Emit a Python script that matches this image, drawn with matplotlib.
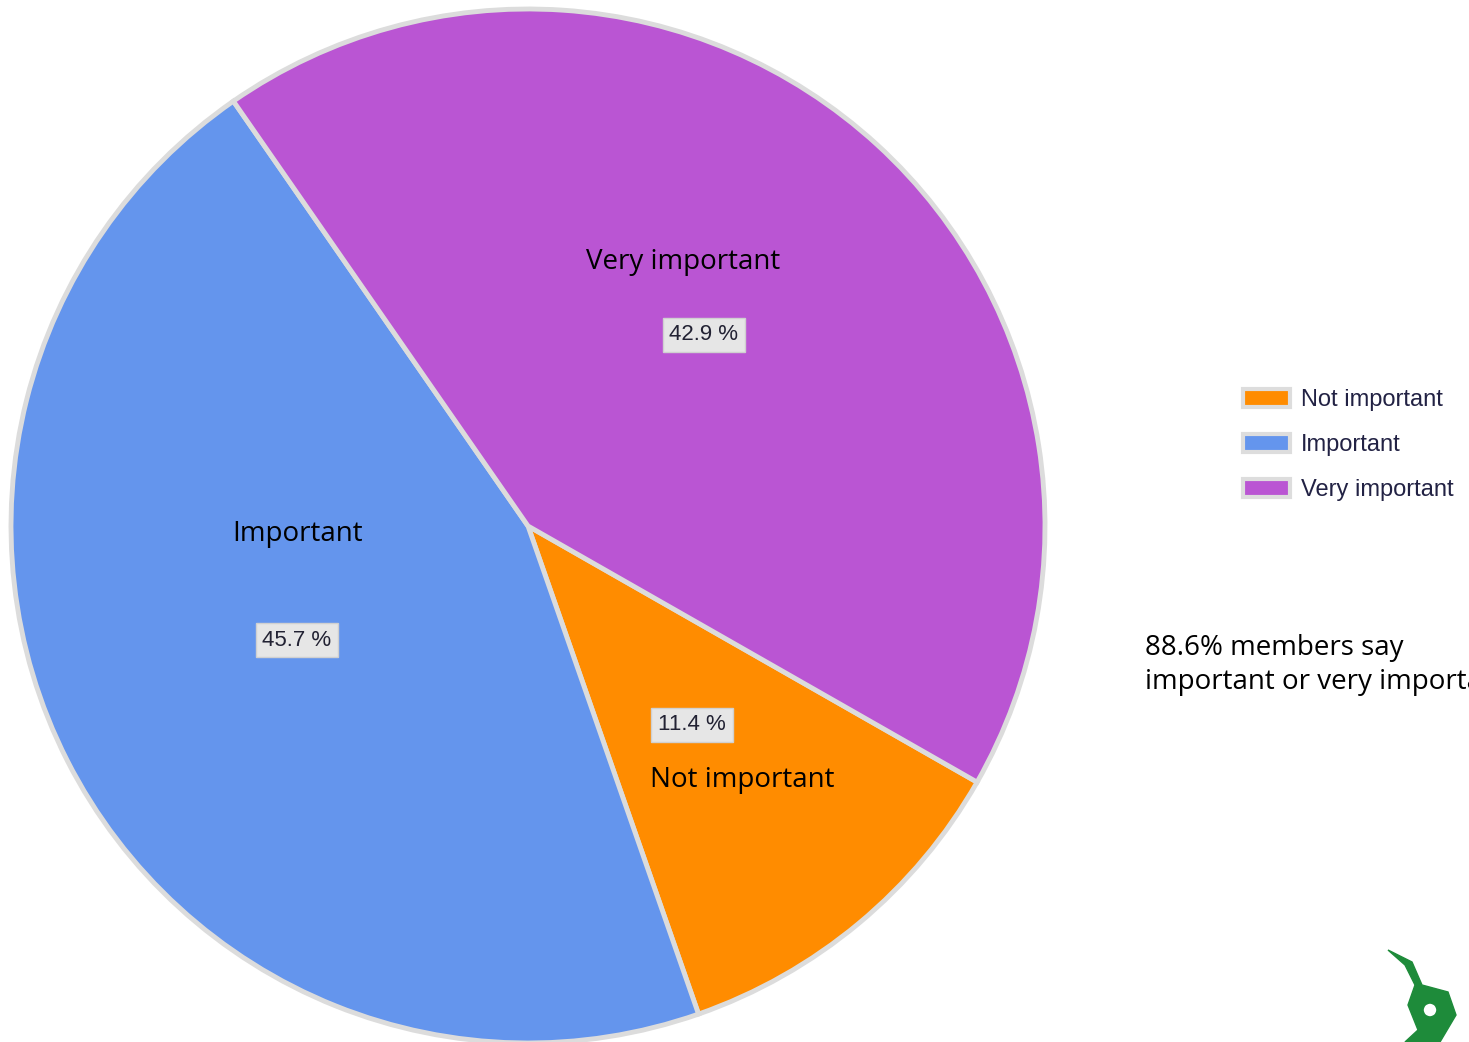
import matplotlib.pyplot as plt
from matplotlib.patches import Circle, Polygon

categories = ["Not important", "Important", "Very important"]
shares = [11.4, 45.7, 42.9]
colors = ["#FF8C00", "#6495ED", "#BA55D3"]
pct_labels = ["11.4 %", "45.7 %", "42.9 %"]
note = "88.6% members say\nimportant or very important"

W, H = 1469, 1042
fig = plt.figure(figsize=(W / 100, H / 100), dpi=100)
ax = fig.add_axes([0, 0, 1, 1])

# pie in pixel coordinates (y up)
cx, cy, r = 528, H - 526, 517
wedges, _ = ax.pie(shares, colors=colors, startangle=-29.7, counterclock=False,
                   center=(cx, cy), radius=r, frame=True,
                   wedgeprops=dict(edgecolor="#DCDCDC", linewidth=3.5))
ax.set_xlim(0, W)
ax.set_ylim(0, H)
ax.set_aspect("equal")
ax.axis("off")

# slice labels (name + percent box)
name_pos = [(742, 780), (298, 534), (683, 262)]
pct_pos = [(692, 725), (297, 640), (704, 335)]
for i in range(3):
    ax.text(name_pos[i][0], H - name_pos[i][1], categories[i], fontsize=20,
            family="Open Sans", ha="center", va="center", color="black")
    ax.text(pct_pos[i][0], H - pct_pos[i][1], pct_labels[i], fontsize=16,
            family="Liberation Sans", ha="center", va="center", color="#222233",
            bbox=dict(boxstyle="square,pad=0.3", facecolor="#E6E6E6",
                      edgecolor="#D0D0D0", linewidth=1))

# legend
leg = ax.legend(wedges, categories, loc="upper left",
                bbox_to_anchor=(1222 / W, (H - 368) / H), frameon=False,
                prop={"family": "Liberation Sans", "size": 17},
                handlelength=2.0, handleheight=0.8,
                labelspacing=0.95, handletextpad=0.45)
for t in leg.get_texts():
    t.set_color("#222244")
for h in leg.legend_handles:
    h.set_edgecolor("#DDDDDD")
    h.set_linewidth(3)

# side note, cut at the right edge as in the slide
ax.text(1145, H - 665, note, fontsize=20, family="Open Sans", ha="left",
        va="center", linespacing=1.3, color="black", clip_on=True)

# rough logo in the corner
logo = Polygon([(1388, H - 950), (1412, H - 962), (1422, H - 985),
                (1448, H - 992), (1456, H - 1015), (1440, H - 1042),
                (1405, H - 1042), (1418, H - 1030), (1408, H - 1005),
                (1415, H - 985), (1405, H - 965)], closed=True, color="#1E8B3A")
ax.add_patch(logo)
ax.add_patch(Circle((1430, H - 1010), 9, facecolor="white", edgecolor="#1E8B3A", linewidth=4))

fig.savefig("out.png", dpi=100)
